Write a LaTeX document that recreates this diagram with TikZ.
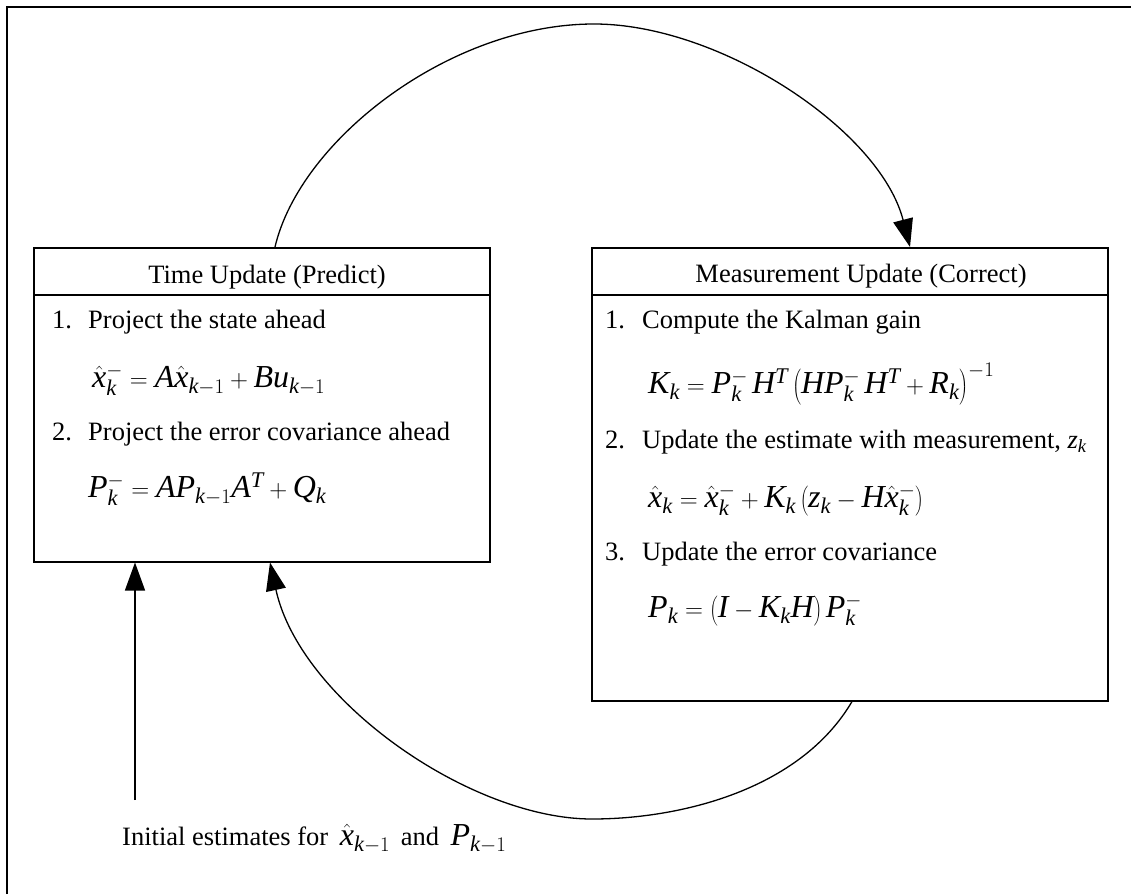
\documentclass[tikz,border=0pt]{standalone}
\usepackage[no-math]{fontspec}
\setmainfont{Liberation Serif}
\DeclareSymbolFont{letters}{TU}{\rmdefault}{m}{it}
\usepackage{graphicx}
\usetikzlibrary{arrows.meta}
\newcommand\eqsize{\fontsize{32}{38}\selectfont}
\tikzset{
  box/.style={draw, line width=1.5pt, anchor=north west, inner sep=0pt},
  txt/.style={anchor=base west, inner sep=0pt, font=\fontsize{26.5}{32}\selectfont},
  eqn/.style={anchor=base west, inner sep=0pt, font=\eqsize},
  conn/.style={line width=1.3pt, -{Triangle[length=28pt,width=20pt]}},
}
\begin{document}
\begin{tikzpicture}[x=1pt,y=-1pt]
\useasboundingbox (0,0) rectangle (1131,894);
\draw[line width=1.8pt] (7,894) -- (7,7) -- (1131,7);
% boxes
\node[box, minimum width=456pt, minimum height=314pt] (tu) at (33,247) {};
\node[box, minimum width=516pt, minimum height=453pt] (mu) at (591,247) {};
\draw[line width=1.5pt] ([yshift=-48pt]tu.north west) -- ([yshift=-48pt]tu.north east);
\draw[line width=1.5pt] ([yshift=-48pt]mu.north west) -- ([yshift=-48pt]mu.north east);
% time update
\node[txt, anchor=base] (tuh) at (267,283) {Time Update (Predict)};
\node[txt] (tn1) at (52,328) {1.};
\node[txt] (tt1) at (88,328) {Project the state ahead};
\node[eqn] (te1) at (92,387) {$\hat{x}_k^- = A\hat{x}_{k-1} + Bu_{k-1}$};
\node[txt] (tn2) at (52,440) {2.};
\node[txt] (tt2) at (88,440) {Project the error covariance ahead};
\node[eqn] (te2) at (88,497) {$P_k^- = AP_{k-1}A^T + Q_k$};
% measurement update
\node[txt, anchor=base] (muh) at (861,282) {Measurement Update (Correct)};
\node[txt] (mn1) at (605,328) {1.};
\node[txt] (mt1) at (642,328) {Compute the Kalman gain};
\node[eqn] (me1) at (648,393) {$K_k = P_k^-\, H^T \left(HP_k^-\, H^T + R_k\right)^{-1}$};
\node[txt] (mn2) at (605,448) {2.};
\node[txt] (mt2) at (642,448) {Update the estimate with measurement, $z_k$};
\node[eqn] (me2) at (648,507) {$\hat{x}_k = \hat{x}_k^- + K_k\left(z_k - H\hat{x}_k^-\right)$};
\node[txt] (mn3) at (605,560) {3.};
\node[txt] (mt3) at (642,560) {Update the error covariance};
\node[eqn] (me3) at (648,617) {$P_k = \left(I - K_k H\right)P_k^-$};
% initial label
\node[txt] (init) at (122,845) {Initial estimates for\hspace{5pt} {\eqsize$\hat{x}_{k-1}$}\hspace{4pt} and\hspace{5pt} {\eqsize$P_{k-1}$}};
% connectors
\coordinate (c1) at (135,800);
\draw[conn] (c1) -- (c1 |- tu.south);
\draw[conn] (275,0 |- tu.north) .. controls (300,140) and (450,24) .. (594,24)
  .. controls (720,24) and (880,130) .. (910,0 |- mu.north);
\draw[conn] (852,0 |- mu.south) .. controls (800,790) and (680,819) .. (592,819)
  .. controls (470,819) and (300,700) .. (270,0 |- tu.south);
\end{tikzpicture}
\end{document}
